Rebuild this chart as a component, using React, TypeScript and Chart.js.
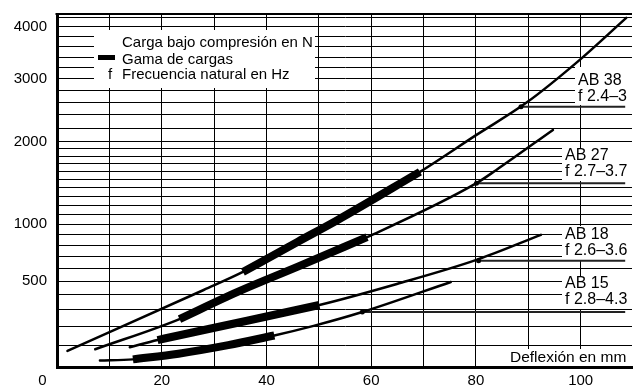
import React, { useEffect, useRef } from 'react';
import { Chart, registerables, LinearScale } from 'chart.js';

// ---- data (deflection in mm, load in N) ----
const X_TICKS = [0, 10, 20, 30, 40, 50, 60, 70, 80, 90, 100];
const X_LABELED = [0, 20, 40, 60, 80, 100];
const Y_TICKS = [100, 200, 300, 400, 500, 600, 700, 800, 900, 1000, 1100, 1200, 1300, 1400, 1500, 1600, 1700, 1800, 1900, 2000, 2200, 2400, 2600, 2800, 3000, 3200, 3400, 3600, 3800, 4000, 4200];
const Y_LABELED = [500, 1000, 2000, 3000, 4000];

const AB38_DEFL = [2, 28, 35.5, 46, 53.6, 69.3, 80.1, 89.6, 99.6, 108.7];
const AB38_LOAD = [72, 434, 570, 831, 1044, 1595, 2099, 2594, 3329, 4188];
const AB38_RANGE = [2, 5];
const AB38_FREQ_POINT = [88.6, 2529];

const AB27_DEFL = [7.3, 23.4, 34.6, 46, 59.2, 80.1, 83.9, 94.7];
const AB27_LOAD = [80, 243, 422, 613, 873, 1455, 1620, 2172];
const AB27_RANGE = [1, 4];
const AB27_FREQ_POINT = [80.1, 1455];

const AB18_DEFL = [13.9, 19.2, 23.2, 36.3, 50.1, 64.9, 80.1, 92.4];
const AB18_LOAD = [90, 126, 150, 233, 331, 478, 669, 895];
const AB18_RANGE = [1, 4];
const AB18_FREQ_POINT = [80.5, 662];

const AB15_DEFL = [8.2, 14.5, 23.2, 32.7, 41.5, 49, 58.3, 75.2];
const AB15_LOAD = [28, 33, 59, 100, 150, 203, 286, 493];
const AB15_RANGE = [1, 4];
const AB15_FREQ_POINT = [58.3, 286];

const LABEL_END_X = 108.5;

const SERIES_NAMES = ['AB 38', 'AB 27', 'AB 18', 'AB 15'];
const SERIES_FREQ = ['f 2.4–3', 'f 2.7–3.7', 'f 2.6–3.6', 'f 2.8–4.3'];
const LEGEND_TEXT = ['Carga bajo compresión en N', 'Gama de cargas', 'Frecuencia natural en Hz'];
const X_TITLE = 'Deflexión en mm';

const FONT = "'Liberation Sans', Arial, Helvetica, sans-serif";

// ---- custom power scale (axis is compressed like (v+300)^0.4) ----
const POW = 0.4;
const OFF = 300;
class PowerScale extends LinearScale {
  static id = 'power';
  static defaults = {};
  _f(v: number) { return Math.pow(v + OFF, POW); }
  getPixelForValue(value: any) {
    if (value === null || value === undefined) return NaN;
    const f0 = this._f(this.min);
    const f1 = this._f(this.max);
    return this.getPixelForDecimal((this._f(+value) - f0) / (f1 - f0));
  }
  getValueForPixel(pixel: number) {
    const d = this.getDecimalForPixel(pixel);
    const f0 = this._f(this.min);
    const f1 = this._f(this.max);
    return Math.pow(f0 + d * (f1 - f0), 1 / POW) - OFF;
  }
}

Chart.register(...registerables, PowerScale as any);

const pts = (xs: number[], ys: number[], from = 0, to = xs.length - 1) =>
  xs.slice(from, to + 1).map((x, i) => ({ x, y: ys[from + i] }));

const overlay = {
  id: 'overlay',
  beforeDatasetsDraw(chart: any) {
    const { ctx } = chart;
    ctx.save();
    ctx.fillStyle = '#fff';
    // legend box
    ctx.fillRect(94, 30, 221, 58);
    // series label boxes
    ctx.fillRect(575, 67, 61, 38);
    ctx.fillRect(562, 148, 74, 33);
    ctx.fillRect(562, 226, 74, 34);
    ctx.fillRect(562, 276, 74, 33);
    // axis title box
    ctx.fillRect(506, 349, 126, 17);

    ctx.fillStyle = '#000';
    ctx.textBaseline = 'middle';
    ctx.textAlign = 'left';
    ctx.font = `15px ${FONT}`;
    ctx.fillText(LEGEND_TEXT[0], 122, 43);
    ctx.fillText(LEGEND_TEXT[1], 122, 59.5);
    ctx.fillText(LEGEND_TEXT[2], 122, 75);
    ctx.fillText('f', 108, 75);
    ctx.fillRect(98, 55, 17, 5);

    ctx.font = `16px ${FONT}`;
    const lx = [578, 565, 565, 565];
    const ly = [81, 156, 234.5, 284];
    for (let i = 0; i < 4; i++) {
      ctx.fillText(SERIES_NAMES[i], lx[i], ly[i]);
      ctx.fillText(SERIES_FREQ[i], lx[i], ly[i] + 16);
    }
    ctx.font = `15.5px ${FONT}`;
    ctx.fillText(X_TITLE, 510, 357.5);
    ctx.restore();
  },
  afterDraw(chart: any) {
    const { ctx, chartArea: a } = chart;
    ctx.save();
    ctx.strokeStyle = '#000';
    ctx.lineWidth = 2;
    ctx.beginPath();
    ctx.moveTo(a.left - 1.5, a.top);
    ctx.lineTo(a.right, a.top);
    ctx.stroke();
    ctx.restore();
  },
};

export default function App() {
  const ref = useRef<HTMLCanvasElement>(null);
  useEffect(() => {
    if (!ref.current) return;
    Chart.defaults.font.family = FONT;
    Chart.defaults.font.size = 15;
    Chart.defaults.color = '#000';

    const curves = [
      [AB38_DEFL, AB38_LOAD, AB38_RANGE, AB38_FREQ_POINT],
      [AB27_DEFL, AB27_LOAD, AB27_RANGE, AB27_FREQ_POINT],
      [AB18_DEFL, AB18_LOAD, AB18_RANGE, AB18_FREQ_POINT],
      [AB15_DEFL, AB15_LOAD, AB15_RANGE, AB15_FREQ_POINT],
    ] as number[][][];

    const datasets: any[] = [];
    curves.forEach(([xs, ys, range, fp], i) => {
      datasets.push({
        label: SERIES_NAMES[i],
        data: pts(xs, ys),
        borderColor: '#000',
        borderWidth: 2.5,
        borderCapStyle: 'round',
        cubicInterpolationMode: 'monotone',
        pointRadius: 0,
      });
      datasets.push({
        label: SERIES_NAMES[i] + ' gama',
        data: pts(xs, ys, range[0], range[1]),
        borderColor: '#000',
        borderWidth: 8,
        borderCapStyle: 'butt',
        cubicInterpolationMode: 'monotone',
        pointRadius: 0,
      });
      datasets.push({
        label: SERIES_NAMES[i] + ' f',
        data: [{ x: fp[0], y: fp[1] }, { x: LABEL_END_X, y: fp[1] }],
        borderColor: '#222',
        borderWidth: 2,
        pointRadius: [2.5, 0],
        pointBackgroundColor: '#000',
        pointBorderWidth: 0,
      });
    });

    const chart = new Chart(ref.current, {
      type: 'line',
      data: { datasets },
      plugins: [overlay],
      options: {
        animation: false,
        responsive: false,
        layout: { padding: { top: 14, right: 0, left: 0, bottom: 0 } },
        plugins: { legend: { display: false }, tooltip: { enabled: false } },
        scales: {
          x: {
            type: 'linear',
            min: 0,
            max: 109.8,
            afterBuildTicks: (s: any) => { s.ticks = X_TICKS.map((v) => ({ value: v })); },
            afterFit: (s: any) => { s.height = 21; },
            grid: { color: '#000', lineWidth: 1, drawTicks: false },
            border: { color: '#000', width: 3 },
            ticks: {
              autoSkip: false,
              maxRotation: 0,
              padding: 5,
              color: '#000',
              font: { size: 15 },
              callback: (v: any) => (X_LABELED.includes(v) ? (v === 0 ? '0       ' : String(v)) : ''),
            },
          },
          y: {
            type: 'power' as any,
            min: 0,
            max: 4270,
            afterBuildTicks: (s: any) => { s.ticks = Y_TICKS.map((v) => ({ value: v })); },
            afterFit: (s: any) => { s.width = 57; },
            grid: { color: '#000', lineWidth: 1, drawTicks: true, tickLength: 10, tickColor: 'rgba(0,0,0,0)' },
            border: { color: '#000', width: 3 },
            ticks: {
              autoSkip: false,
              padding: 0,
              color: '#000',
              font: { size: 15 },
              callback: (v: any) => (Y_LABELED.includes(v) ? String(v) : ''),
            },
          },
        },
      } as any,
    });
    return () => chart.destroy();
  }, []);

  return (
    <div style={{ position: 'fixed', left: 0, top: 0, width: 636, height: 388, background: '#fff' }}>
      <canvas ref={ref} width={636} height={388} style={{ display: 'block' }} />
    </div>
  );
}
